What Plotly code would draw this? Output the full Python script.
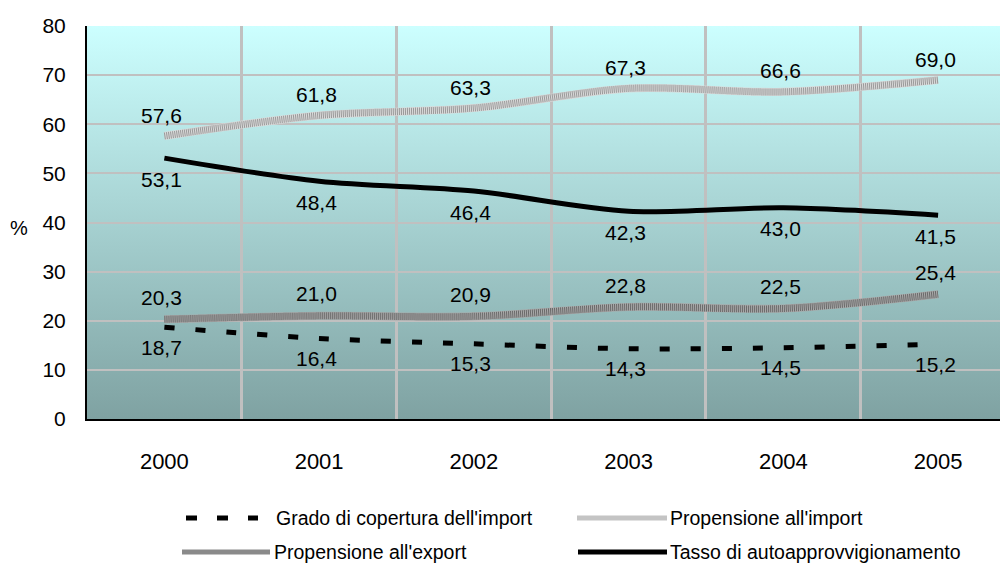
import base64
import plotly.graph_objects as go

# Indicators of the agri-food trade balance, 2000-2005 (%)
years = ["2000", "2001", "2002", "2003", "2004", "2005"]
grado_copertura = [18.7, 16.4, 15.3, 14.3, 14.5, 15.2]
propensione_import = [57.6, 61.8, 63.3, 67.3, 66.6, 69.0]
propensione_export = [20.3, 21.0, 20.9, 22.8, 22.5, 25.4]
tasso_autoapprov = [53.1, 48.4, 46.4, 42.3, 43.0, 41.5]

series_names = [
    "Grado di copertura dell'import",
    "Propensione all'import",
    "Propensione all'export",
    "Tasso di autoapprovvigionamento",
]

FONT = "Liberation Sans, Arial, sans-serif"
W, H = 1000, 565
L, R, T, B = 87, 0, 26, 146
PW, PH = W - L - R, H - T - B


def px_x(px):
    return (px - L) / PW


def px_y(py):
    return (H - B - py) / PH


def fmt(v):
    return f"{v:.1f}".replace(".", ",")


xs = list(range(len(years)))
fig = go.Figure()

# Textured bands: a base stroke with a fine dashed stroke on top
bands = [
    (propensione_import, "#d9d9d9", "#9a9a9a"),
    (propensione_export, "#a8a8a8", "#6a6a6a"),
]
for vals, base, grain in bands:
    fig.add_trace(go.Scatter(x=xs, y=vals, mode="lines",
                             line=dict(color=base, width=8, shape="spline", smoothing=0.9),
                             hoverinfo="skip", showlegend=False))
    fig.add_trace(go.Scatter(x=xs, y=vals, mode="lines",
                             line=dict(color=grain, width=7, shape="spline", smoothing=0.9,
                                       dash="1px,1px"),
                             hoverinfo="skip", showlegend=False))

fig.add_trace(go.Scatter(x=xs, y=grado_copertura, mode="lines", name=series_names[0],
                         line=dict(color="black", width=5, shape="spline", smoothing=0.9,
                                   dash="10px,21px"), showlegend=False))
fig.add_trace(go.Scatter(x=xs, y=tasso_autoapprov, mode="lines", name=series_names[3],
                         line=dict(color="black", width=5, shape="spline", smoothing=0.9),
                         showlegend=False))

# Value labels: above for the propensity lines, below for the others
annotations = []
label_sets = [
    (propensione_import, 21),
    (propensione_export, 22),
    (tasso_autoapprov, -21),
    (grado_copertura, -20),
]
for vals, shift in label_sets:
    for i, v in enumerate(vals):
        annotations.append(dict(x=i, y=v, text=fmt(v), showarrow=False, xshift=-3,
                                yshift=shift, yanchor="middle",
                                font=dict(family=FONT, size=21, color="black")))

# Axis title
annotations.append(dict(x=px_x(19), y=px_y(228), xref="paper", yref="paper", text="%",
                        xanchor="center", yanchor="middle", showarrow=False,
                        font=dict(family=FONT, size=20, color="black")))

# Legend drawn as samples + labels in two rows
shapes = []
rows = [518, 552]
legend_items = [
    (0, 0, series_names[0], dict(color="black", width=5, dash="11px,20px"), 186, 258, 274),
    (0, 1, series_names[1], dict(color="#c4c4c4", width=5), 577, 667, 668),
    (1, 0, series_names[2], dict(color="#8a8a8a", width=5), 182, 270, 272),
    (1, 1, series_names[3], dict(color="black", width=5), 578, 667, 668),
]
for r, c, name, ln, x0, x1, tx in legend_items:
    y = px_y(rows[r])
    shapes.append(dict(type="line", xref="paper", yref="paper", x0=px_x(x0), x1=px_x(x1),
                       y0=y, y1=y, line=ln))
    annotations.append(dict(x=px_x(tx), y=y, xref="paper", yref="paper", text=name,
                            xanchor="left", yanchor="middle", showarrow=False,
                            font=dict(family=FONT, size=19.5, color="black")))

# Vertical gradient behind the plot area
svg = ('<svg xmlns="http://www.w3.org/2000/svg" width="10" height="100" '
       'preserveAspectRatio="none"><defs><linearGradient id="g" x1="0" y1="0" x2="0" y2="1">'
       '<stop offset="0" stop-color="#CCFFFF"/><stop offset="1" stop-color="#7FA2A2"/>'
       '</linearGradient></defs><rect width="10" height="100" fill="url(#g)"/></svg>')
bg_src = "data:image/svg+xml;base64," + base64.b64encode(svg.encode()).decode()

fig.update_layout(
    width=W, height=H,
    margin=dict(l=L, r=R, t=T, b=B),
    paper_bgcolor="white",
    plot_bgcolor="rgba(0,0,0,0)",
    font=dict(family=FONT, size=20, color="black"),
    showlegend=False,
    annotations=annotations,
    shapes=shapes,
    images=[dict(source=bg_src, xref="paper", yref="paper", x=0, y=1, sizex=1, sizey=1,
                 sizing="stretch", layer="below", xanchor="left", yanchor="top")],
    xaxis=dict(range=[-0.5, 5.4], tickvals=xs, ticktext=years, showgrid=False,
               zeroline=False, showline=True, linecolor="black", linewidth=2,
               ticks="", ticklabelstandoff=22, tickfont=dict(size=22),
               minor=dict(tickvals=[0.5, 1.5, 2.5, 3.5, 4.5], showgrid=True,
                          gridcolor="#C0C0C0", gridwidth=3, ticks="")),
    yaxis=dict(range=[0, 80], dtick=10, showgrid=True, gridcolor="#C0C0C0", gridwidth=2,
               zeroline=False, showline=True, linecolor="black", linewidth=2,
               ticks="", ticklabelstandoff=15, tickfont=dict(size=21)),
)

fig.write_html("out.html")
